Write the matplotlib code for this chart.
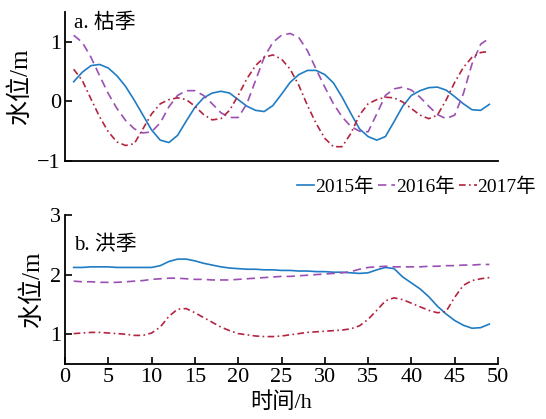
import numpy as np
import matplotlib
matplotlib.use("Agg")
import matplotlib.pyplot as plt

plt.rcParams['font.family'] = ['Liberation Serif', 'Noto Sans CJK SC']
plt.rcParams['axes.unicode_minus'] = True

# --- data (hourly, t = 1..49) ---
hours = list(range(1, 50))

dry_2015 = [0.33, 0.49, 0.60, 0.62, 0.56, 0.43, 0.25, 0.02, -0.23, -0.48,
            -0.65, -0.69, -0.57, -0.33, -0.10, 0.06, 0.14, 0.17, 0.14, 0.03,
            -0.08, -0.15, -0.17, -0.07, 0.12, 0.32, 0.45, 0.52, 0.52, 0.45,
            0.31, 0.07, -0.20, -0.46, -0.59, -0.65, -0.59, -0.34, -0.08, 0.10,
            0.18, 0.23, 0.24, 0.19, 0.08, -0.04, -0.14, -0.15, -0.05]
dry_2016 = [1.11, 0.99, 0.74, 0.43, 0.13, -0.12, -0.32, -0.46, -0.53, -0.51,
            -0.36, -0.09, 0.10, 0.18, 0.18, 0.10, -0.04, -0.19, -0.27, -0.27,
            -0.04, 0.35, 0.74, 0.99, 1.11, 1.14, 1.07, 0.85, 0.54, 0.24,
            -0.04, -0.26, -0.42, -0.50, -0.51, -0.21, 0.10, 0.21, 0.24, 0.19,
            0.07, -0.08, -0.22, -0.29, -0.23, 0.13, 0.63, 0.96, 1.06]
dry_2017 = [0.54, 0.35, 0.04, -0.26, -0.51, -0.68, -0.74, -0.71, -0.46, -0.21,
            -0.04, 0.03, 0.06, 0.03, -0.08, -0.22, -0.31, -0.29, -0.15, 0.10,
            0.38, 0.60, 0.74, 0.78, 0.71, 0.54, 0.27, -0.07, -0.37, -0.62,
            -0.76, -0.76, -0.54, -0.23, -0.04, 0.03, 0.07, 0.06, -0.01, -0.12,
            -0.23, -0.29, -0.23, 0.02, 0.32, 0.57, 0.74, 0.82, 0.84]

flood_2015 = [2.12, 2.12, 2.13, 2.13, 2.13, 2.12, 2.12, 2.12, 2.12, 2.12,
              2.15, 2.22, 2.26, 2.26, 2.23, 2.19, 2.16, 2.13, 2.11, 2.10,
              2.09, 2.09, 2.08, 2.08, 2.07, 2.07, 2.06, 2.06, 2.05, 2.05,
              2.04, 2.04, 2.03, 2.02, 2.03, 2.08, 2.12, 2.10, 1.96, 1.86,
              1.76, 1.63, 1.47, 1.34, 1.23, 1.15, 1.10, 1.11, 1.17]
flood_2016 = [1.89, 1.88, 1.88, 1.87, 1.87, 1.87, 1.88, 1.89, 1.90, 1.92,
              1.93, 1.94, 1.94, 1.93, 1.92, 1.92, 1.91, 1.91, 1.91, 1.92,
              1.93, 1.94, 1.95, 1.96, 1.97, 1.97, 1.98, 1.99, 2.00, 2.01,
              2.02, 2.03, 2.05, 2.09, 2.12, 2.13, 2.14, 2.13, 2.13, 2.13,
              2.13, 2.14, 2.14, 2.15, 2.15, 2.16, 2.16, 2.17, 2.17]
flood_2017 = [1.01, 1.02, 1.03, 1.03, 1.02, 1.01, 1.00, 0.98, 0.98, 1.02,
              1.12, 1.30, 1.42, 1.43, 1.36, 1.28, 1.20, 1.12, 1.06, 1.01,
              0.99, 0.97, 0.96, 0.96, 0.97, 0.99, 1.01, 1.03, 1.04, 1.05,
              1.06, 1.07, 1.09, 1.14, 1.25, 1.40, 1.56, 1.61, 1.58, 1.52,
              1.46, 1.40, 1.36, 1.38, 1.62, 1.82, 1.90, 1.93, 1.95]

years = ['2015年', '2016年', '2017年']
colors = ['#1f7cc4', '#9b4fb3', '#b3243f']
styles = ['-', (0, (5, 3)), (0, (4, 2, 1, 2))]

fig = plt.figure(figsize=(5.46, 4.19), dpi=100)
ax1 = fig.add_axes([65/546, 1 - 161/419, 433/546, 149/419])
ax2 = fig.add_axes([65/546, 1 - 364/419, 433/546, 149/419])

for ax, series in ((ax1, (dry_2015, dry_2016, dry_2017)),
                   (ax2, (flood_2015, flood_2016, flood_2017))):
    for vals, c, ls, lab in zip(series, colors, styles, years):
        ax.plot(hours, vals, color=c, ls=ls, lw=1.2, label=lab)
    ax.set_xlim(0, 50)
    for s in ('top', 'right'):
        ax.spines[s].set_visible(False)
    for s in ('left', 'bottom'):
        ax.spines[s].set_linewidth(1.3)
    ax.tick_params(direction='in', length=5, width=1.2, labelsize=16, pad=3)
    ax.set_ylabel('水位/m', fontsize=18, labelpad=4)

ax1.set_ylim(-1, 1.5)
ax1.set_yticks([-1, 0, 1])
ax1.set_xticks([])
ax1.text(0.02, 0.99, 'a. 枯季', transform=ax1.transAxes, fontsize=15,
         va='top', ha='left')

ax2.set_ylim(0.5, 3)
ax2.set_yticks([1, 2, 3])
ax2.set_xticks(np.arange(0, 51, 5))
ax2.set_xlabel('时间/h', fontsize=16, labelpad=4)
ax2.text(0.02, 0.86, 'b. 洪季', transform=ax2.transAxes, fontsize=15,
         va='top', ha='left')

handles, labels = ax1.get_legend_handles_labels()
fig.legend(handles, labels, loc='center right', bbox_to_anchor=(1.0, 1 - 187/419),
           ncol=3, frameon=False, prop={'size': 14}, handlelength=0.9,
           handletextpad=0.05, columnspacing=0.2, borderaxespad=0.1)

fig.savefig('out.png', dpi=100)
